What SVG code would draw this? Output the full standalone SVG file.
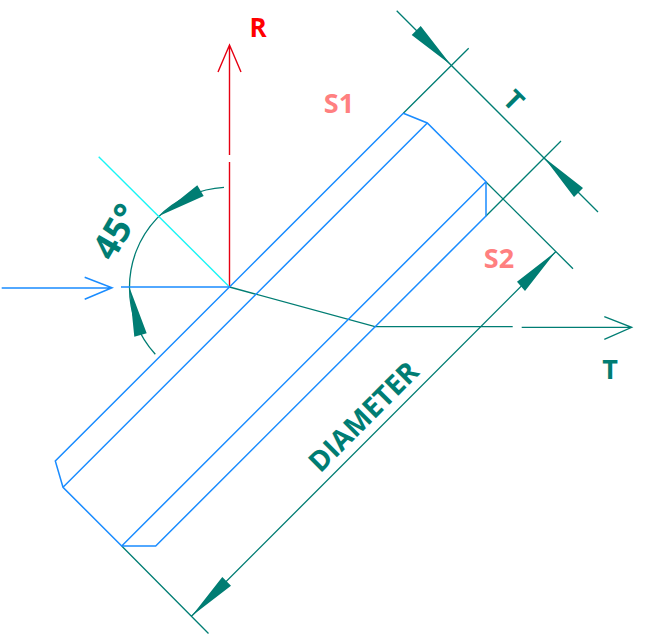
<svg xmlns="http://www.w3.org/2000/svg" width="650" height="636" viewBox="0 0 650 636">
<style>
.b{fill:none;stroke:#1a8cff;stroke-width:1.5}
.t{fill:none;stroke:#007d73;stroke-width:1.3}
.r{fill:none;stroke:#e60012;stroke-width:1.4}
.c{fill:none;stroke:#19f5f5;stroke-width:1.4}
.h{fill:#007d73;stroke:none}
text{font-family:"Open Sans","Liberation Sans",sans-serif;font-weight:700;text-anchor:middle}
.tt{fill:#007d73}
.s{fill:#ff8080;font-size:27px}
</style>
<rect width="650" height="636" fill="#fff"/>
<g id="connectors">
<path class="t" d="M396.7 10.7L598 212M468.7 48.3L403.3 113.3M561 141L486 216M486 182L573 268.7M121.7 546L208.5 633.5M555.7 251.7L191.7 616"/>
<path class="t" d="M224 187.3A100 100 0 0 0 129.5 287A100 100 0 0 0 155.3 354.3"/>
<path class="t" d="M229.5 287L375 326.7H512.7M521.7 327.3H631.7M604.3 316.7L631.7 327.3L604.3 339.3"/>
<path class="r" d="M229.5 286.7V162M229.5 155V45M218 72L229.5 45L241 72"/>
<path class="c" d="M98.7 156.7L229.3 286.7"/>
<path class="b" d="M121 287H229.5M1.7 288H112M84.7 277.3L112 287.7L84.7 299.3"/>
<path class="h" d="M451 65L420.7 26L411.7 35ZM544 157.5L583 188L574 197ZM555.7 251.7L517 281.7L525 291ZM191.7 616L222.3 577L231 585.7ZM159 216L197.3 185.3L203.7 196ZM129.3 287L134.3 336.7L146.7 333.3Z"/>
</g>
<g id="part">
<path class="b" d="M403.3 113.3L427.3 123L486 181.7V216L155.7 546H121.7L63 487.3L55.3 461L403.3 113.3M427.3 123L63 487.3M486 181.7L121.7 546"/>
</g>
<g id="label-r"><text x="258" y="37" font-size="26" fill="#f00">R</text></g>
<g id="label-s1"><text class="s" x="339" y="113">S1</text></g>
<g id="label-s2"><text class="s" x="499" y="268">S2</text></g>
<g id="label-t"><text class="tt" x="610" y="379" font-size="27">T</text></g>
<g id="label-t-dim"><text class="tt" transform="translate(507 107) rotate(45)" font-size="27">T</text></g>
<g id="label-angle"><text class="tt" transform="translate(127 238) rotate(-60)" font-size="36">45°</text></g>
<g id="label-diameter"><text class="tt" transform="translate(370.5 423.5) rotate(-45)" font-size="28">DIAMETER</text></g>
</svg>
